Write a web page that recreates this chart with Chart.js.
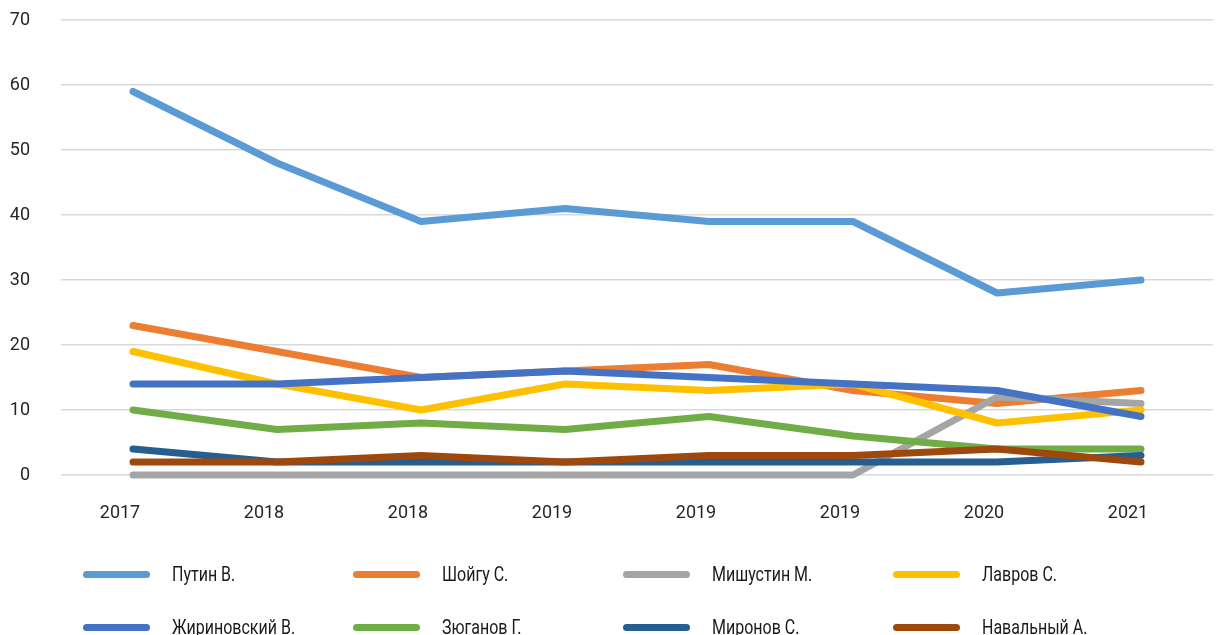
<!DOCTYPE html>
<html lang="ru">
<head>
<meta charset="utf-8">
<title>Рейтинг доверия политикам</title>
<script src="https://cdn.jsdelivr.net/npm/chart.js@4.4.1/dist/chart.umd.min.js"></script>
<style>
  html, body { margin: 0; padding: 0; background: #fff; overflow: hidden; }
  #wrap { position: relative; width: 1221px; height: 635px; }
  #chartBox { position: absolute; left: 0; top: 0; width: 1221px; height: 540px; }
  #legend { position: absolute; left: 0; top: 0; width: 1221px; height: 635px; pointer-events: none; }
  .lg-line { position: absolute; width: 67px; height: 7px; border-radius: 3.5px; }
  .lg-text { position: absolute; display: inline-block; font-family: Roboto, sans-serif;
             transform: scaleX(0.8); transform-origin: left center;
             font-size: 20px; color: #1a1a1a; line-height: 24px; white-space: nowrap; }
</style>
</head>
<body>
<div id="wrap">
  <div id="chartBox"><canvas id="c"></canvas></div>
  <div id="legend"></div>
</div>
<script>
// Survey waves (x axis)
const years = ['2017', '2018', '2018', '2019', '2019', '2019', '2020', '2021'];

// Share of respondents naming each politician, %
const putin       = [59, 48, 39, 41, 39, 39, 28, 30];
const shoigu      = [23, 19, 15, 16, 17, 13, 11, 13];
const mishustin   = [0, 0, 0, 0, 0, 0, 12, 11];
const lavrov      = [19, 14, 10, 14, 13, 14, 8, 10];
const zhirinovsky = [14, 14, 15, 16, 15, 14, 13, 9];
const zyuganov    = [10, 7, 8, 7, 9, 6, 4, 4];
const mironov     = [4, 2, 2, 2, 2, 2, 2, 3];
const navalny     = [2, 2, 3, 2, 3, 3, 4, 2];

const seriesNames = ['Путин В.', 'Шойгу С.', 'Мишустин М.', 'Лавров С.',
                     'Жириновский В.', 'Зюганов Г.', 'Миронов С.', 'Навальный А.'];
const seriesData = [putin, shoigu, mishustin, lavrov, zhirinovsky, zyuganov, mironov, navalny];
const seriesColors = ['#5B9BD5', '#ED7D31', '#A5A5A5', '#FFC000',
                      '#4472C4', '#70AD47', '#255E91', '#9E480E'];

const yTicks = [0, 10, 20, 30, 40, 50, 60, 70];

const TICK_FONT = { family: 'Roboto', size: 18 };

const datasets = seriesNames.map((name, i) => ({
  label: name,
  data: seriesData[i],
  borderColor: seriesColors[i],
  backgroundColor: seriesColors[i],
  borderWidth: 7,
  borderCapStyle: 'round',
  borderJoinStyle: 'round',
  pointRadius: 0,
  pointHoverRadius: 0,
  tension: 0,
  fill: false,
  clip: false,   // keep the full stroke of lines lying on the zero gridline
  order: -i      // later series drawn on top
}));

new Chart(document.getElementById('c'), {
  type: 'line',
  data: { labels: years, datasets },
  options: {
    responsive: true,
    maintainAspectRatio: false,
    animation: false,
    layout: { padding: { top: 20, right: 8, left: 0, bottom: 0 } },
    plugins: { legend: { display: false }, tooltip: { enabled: false } },
    scales: {
      x: {
        offset: true,
        grid: { display: false, drawTicks: false },
        border: { display: false },
        ticks: { color: '#262626', font: TICK_FONT, padding: 28, maxRotation: 0, labelOffset: -13 },
        afterFit: s => { s.height = 65; }
      },
      y: {
        min: 0,
        max: 70,
        afterBuildTicks: s => { s.ticks = yTicks.map(v => ({ value: v })); },
        grid: { color: '#D9D9D9', lineWidth: 1.5, drawTicks: false },
        border: { display: false },
        ticks: { color: '#262626', font: TICK_FONT, padding: 31 },
        // fixed axis width; no extra vertical padding from the label gap
        afterFit: s => { s.width = 61; s.paddingTop = 0; s.paddingBottom = 0; }
      }
    }
  }
});

// Legend: four columns, two rows
const legend = document.getElementById('legend');
seriesNames.forEach((name, i) => {
  const col = i % 4, row = Math.floor(i / 4);
  const cy = 574 + row * 53;
  const line = document.createElement('div');
  line.className = 'lg-line';
  line.style.left = (83 + col * 270) + 'px';
  line.style.top = (cy - 3.5) + 'px';
  line.style.background = seriesColors[i];
  legend.appendChild(line);
  const t = document.createElement('span');
  t.className = 'lg-text';
  t.textContent = name;
  t.style.left = (172 + col * 270) + 'px';
  t.style.top = (cy - 12) + 'px';
  legend.appendChild(t);
});
</script>
</body>
</html>
